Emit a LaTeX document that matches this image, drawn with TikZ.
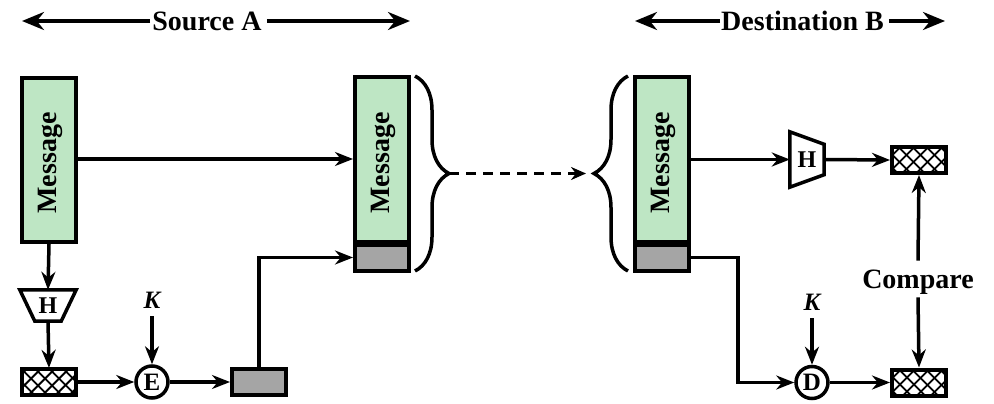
\documentclass[tikz,border=0pt]{standalone}
\usepackage{fontspec}
\setmainfont{Liberation Serif}
\usetikzlibrary{arrows.meta,patterns.meta,decorations.pathreplacing,calc}
\definecolor{msggreen}{RGB}{190,230,196}
\definecolor{taggray}{RGB}{165,165,165}
\tikzset{
  box/.style={draw, line width=4pt, minimum width=54pt, inner sep=0pt},
  msg/.style={box, fill=msggreen, minimum height=164pt},
  tag/.style={box, fill=taggray, minimum height=26pt},
  hatchbox/.style={box, minimum height=26pt,
     pattern={Lines[angle=45,distance=10.5pt,line width=2.2pt]},
     postaction={pattern={Lines[angle=-45,distance=10.5pt,line width=2.2pt]}}},
  op/.style={circle, draw, line width=3.5pt, minimum size=32pt, inner sep=0pt, fill=white,
     font=\fontsize{25}{27}\selectfont\bfseries},
  hnode/.style={inner sep=0pt, font=\fontsize{24}{26}\selectfont\bfseries},
  trap/.style={draw, line width=3.5pt, fill=white, line join=miter},
  conn/.style={line width=3.5pt, -{Stealth[length=18pt,width=14pt]}},
  bigarr/.style={line width=3.5pt, -{Stealth[length=22pt,width=18pt]}},
  lbl/.style={inner sep=0pt, font=\fontsize{28}{30}\selectfont\bfseries},
  keylbl/.style={inner sep=0pt, font=\fontsize{25}{27}\selectfont\bfseries\itshape},
  msgtext/.style={rotate=90, inner sep=0pt, font=\fontsize{28}{30}\selectfont\bfseries},
  bracestyle/.style={line width=3.5pt, decorate, decoration={brace, amplitude=34pt}},
}
\begin{document}
\begin{tikzpicture}[x=1pt,y=-1pt]
\useasboundingbox (0,0) rectangle (994,404);

% top headers
\node[lbl] (srcA) at (207,21) {Source A};
\coordinate (srcAl) at (22,21);
\coordinate (srcAr) at (410,21);
\draw[bigarr] ([xshift=-2pt]srcA.west) -- (srcAl);
\draw[bigarr] ([xshift=5pt]srcA.east) -- (srcAr);

\node[lbl] (dstB) at (802.5,21) {Destination B};
\coordinate (dstBl) at (635,21);
\coordinate (dstBr) at (945,21);
\draw[bigarr] ([xshift=-1pt]dstB.west) -- (dstBl);
\draw[bigarr] ([xshift=5pt]dstB.east) -- (dstBr);

% ---------- Source A ----------
\node[msg] (m1) at (49,160) {};
\node[msgtext] (m1t) at (50,163) {Message};

\node[hnode, minimum width=56pt, minimum height=31pt] (h1) at (48,305.5) {};
\draw[trap] (h1.north west) -- (h1.north east) -- ([xshift=-15pt]h1.south east)
  -- ([xshift=15pt]h1.south west) -- cycle;
\node[hnode] (h1t) at (h1) {H};

\node[hatchbox] (x1) at (49,382) {};
\node[op] (e) at (152,382) {E};
\node[keylbl] (k1) at (152,300) {K};
\node[tag] (g1) at (259,382) {};

\node[msg] (m2) at (382,159.5) {};
\node[msgtext] (m2t) at (383,163) {Message};
\node[tag] (m2g) at (382,257.5) {};

\draw[conn] (m1.east |- 0,159) -- (m2.west |- 0,159);
\draw[conn] (m1.south) -- (h1.north);
\draw[conn] (h1.south) -- (x1.north);
\draw[conn] (x1.east) -- (e.west);
\draw[conn] ([yshift=-8pt]k1.south) -- (e.north);
\draw[conn] (e.east) -- (g1.west);
\draw[conn] (g1.north) |- (m2g.west);

\draw[bracestyle] (415,76) -- (415,271);
\coordinate (bt1) at (449,173.5);
\coordinate (bt2) at (586,173.5);
\draw[line width=3.5pt, dash pattern=on 10pt off 7pt, -{Stealth[length=15pt,width=13pt]}] (bt1) -- (bt2);

% ---------- Destination B ----------
\draw[bracestyle] (628,271) -- (628,76);

\node[msg] (m3) at (662,159.5) {};
\node[msgtext] (m3t) at (663,163) {Message};
\node[tag] (m3g) at (662,257.5) {};

\node[hnode, minimum width=34pt, minimum height=55pt] (h2) at (807,159.5) {};
\draw[trap] (h2.north west) -- ([yshift=-12.5pt]h2.north east) -- ([yshift=12.5pt]h2.south east)
  -- (h2.south west) -- cycle;
\node[hnode] (h2t) at (h2) {H};

\node[hatchbox] (x2) at (919,160) {};
\node[hatchbox] (x3) at (919,382.5) {};
\node[lbl] (cmp) at (918,282) {Compare};

\node[op] (d) at (812,382.5) {D};
\node[keylbl] (k2) at (812,302) {K};

\draw[conn] (m3.east |- 0,159.5) -- (h2.west);
\draw[conn] (h2.east) -- (x2.west);
\draw[conn] ([yshift=9pt]cmp.north) -- (x2.south);
\draw[conn] ([yshift=-3pt]cmp.south) -- (x3.north);
\draw[conn] (m3g.east) -- ++(47,0) |- (d.west);
\draw[conn] ([yshift=-8pt]k2.south) -- (d.north);
\draw[conn] (d.east) -- (x3.west);
\end{tikzpicture}
\end{document}
